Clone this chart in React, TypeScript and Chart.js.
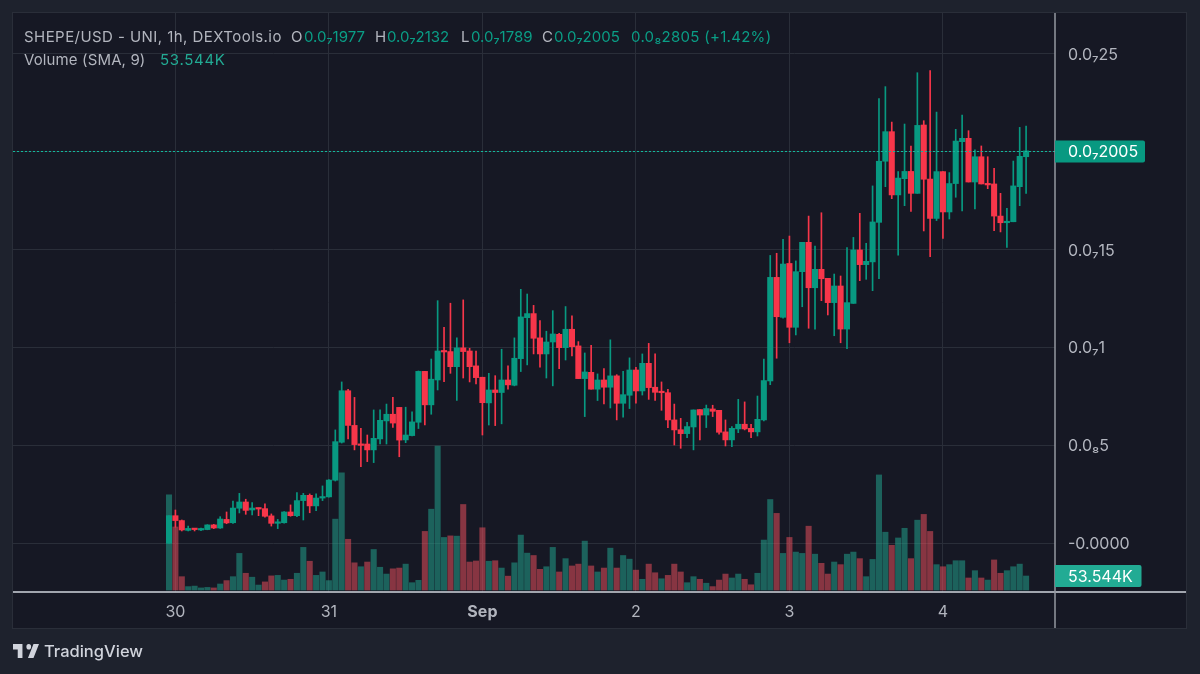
import { useEffect, useRef } from "react";
import { Chart, registerables } from "chart.js";
import type { Plugin } from "chart.js";

Chart.register(...registerables);

// prices are in units of 0.0₉1 so 20.05 reads as 0.0₇2005
const opens = [
  0.01, 1.42, 1.17, 0.67, 0.77, 0.69, 0.71, 0.95, 0.79, 1.23,
  1.06, 1.8, 2.12, 1.71, 1.81, 1.78, 1.41, 1.03, 1.06, 1.61,
  1.42, 2.19, 2.46, 1.92, 2.32, 2.38, 3.23, 5.17, 7.8, 6.03,
  5.08, 5.08, 4.78, 5.34, 6.26, 6.6, 6.95, 5.29, 5.51, 6.19,
  8.79, 7.08, 8.35, 9.83, 9.8, 9.03, 9.99, 9.83, 9.07, 8.49,
  7.18, 7.84, 7.71, 8.35, 8.08, 9.44, 11.53, 11.74, 10.5, 9.68,
  10.29, 10.68, 10.0, 10.94, 10.09, 8.42, 8.74, 7.88, 8.35, 7.98,
  8.56, 7.16, 7.57, 8.86, 7.79, 9.2, 7.98, 7.74, 7.7, 6.31,
  5.81, 5.61, 5.95, 6.84, 6.56, 6.87, 6.8, 5.7, 5.29, 5.85,
  6.09, 5.88, 5.7, 6.31, 8.3, 13.59, 11.55, 14.3, 11.04, 13.88,
  15.38, 13.06, 14.0, 13.54, 12.3, 13.15, 10.95, 12.26, 14.99, 14.24,
  14.38, 16.4, 19.52, 21.03, 17.8, 18.63, 19.0, 17.88, 21.37, 18.61,
  16.6, 18.99, 16.93, 18.38, 20.52, 20.69, 18.46, 19.75, 18.39, 18.36,
  16.72, 16.38, 16.43, 18.22, 19.75,
];
const closes = [
  1.42, 1.17, 0.69, 0.77, 0.71, 0.76, 0.95, 0.79, 1.25, 1.05,
  1.81, 2.12, 1.69, 1.81, 1.76, 1.39, 1.03, 1.1, 1.61, 1.42,
  2.19, 2.46, 1.92, 2.32, 2.39, 3.24, 5.2, 7.8, 6.03, 5.05,
  5.01, 4.78, 5.37, 6.29, 6.6, 6.15, 5.28, 5.54, 6.21, 8.79,
  7.08, 8.39, 9.83, 9.78, 9.03, 9.99, 9.8, 9.03, 8.47, 7.19,
  7.84, 7.71, 8.35, 8.1, 9.46, 11.57, 11.74, 10.48, 9.68, 10.29,
  10.7, 10.0, 10.94, 10.05, 8.42, 8.76, 7.88, 8.35, 7.98, 8.56,
  7.16, 7.6, 8.86, 7.79, 9.2, 7.96, 7.72, 7.7, 6.31, 5.8,
  5.61, 5.97, 6.82, 6.56, 6.89, 6.75, 5.68, 5.29, 5.88, 6.09,
  5.85, 5.7, 6.34, 8.32, 13.59, 11.58, 14.27, 11.04, 13.88, 15.38,
  13.06, 14.0, 13.52, 12.3, 13.15, 10.95, 12.3, 14.99, 14.24, 14.41,
  16.42, 19.52, 21.03, 17.8, 18.66, 19.0, 17.88, 21.35, 18.6, 16.6,
  18.99, 16.93, 18.38, 20.55, 20.69, 18.46, 19.75, 18.36, 18.31, 16.72,
  16.38, 16.45, 18.26, 19.77, 20.05,
];
const highs = [
  1.42, 1.71, 1.2, 0.89, 0.77, 0.79, 0.96, 0.98, 1.37, 1.61,
  2.17, 2.56, 2.26, 2.09, 1.81, 2.02, 1.51, 1.23, 1.63, 1.97,
  2.6, 2.56, 2.53, 2.53, 2.94, 3.26, 5.8, 8.25, 7.87, 7.46,
  5.88, 5.54, 6.82, 6.82, 7.12, 7.46, 6.95, 6.96, 6.72, 8.81,
  8.79, 9.42, 12.4, 11.04, 12.27, 10.5, 12.44, 9.97, 9.83, 8.49,
  8.69, 8.57, 9.92, 9.07, 10.5, 12.98, 12.74, 12.16, 11.38, 10.84,
  11.89, 10.73, 12.1, 11.62, 10.31, 9.73, 10.12, 8.66, 8.93, 10.4,
  8.62, 8.79, 9.48, 8.99, 9.68, 10.22, 9.68, 8.25, 7.87, 7.12,
  6.39, 6.19, 6.82, 6.84, 7.07, 7.06, 6.8, 6.31, 5.97, 7.36,
  7.23, 6.09, 7.53, 9.42, 14.71, 14.82, 15.53, 15.7, 14.43, 15.38,
  16.72, 15.19, 16.89, 13.54, 13.76, 13.66, 15.11, 15.63, 16.86, 15.33,
  18.26, 22.72, 23.33, 21.52, 18.99, 21.42, 20.3, 24.04, 21.59, 24.15,
  22.03, 18.99, 18.94, 21.15, 21.88, 21.08, 20.1, 20.3, 19.75, 19.16,
  17.88, 17.12, 19.53, 21.25, 21.32,
];
const lows = [
  0.01, 0.83, 0.64, 0.64, 0.64, 0.66, 0.7, 0.76, 0.77, 1.01,
  1.03, 1.56, 1.49, 1.46, 1.42, 1.35, 0.89, 0.76, 1.04, 1.39,
  1.37, 1.2, 1.57, 1.68, 2.19, 2.37, 3.19, 5.13, 5.34, 4.78,
  3.92, 4.18, 4.13, 5.08, 5.08, 5.93, 4.43, 5.15, 5.49, 5.87,
  6.05, 6.6, 7.84, 8.27, 8.69, 7.3, 8.45, 8.25, 8.15, 5.54,
  6.05, 6.02, 6.11, 7.88, 8.05, 8.78, 9.12, 9.68, 9.0, 8.45,
  8.05, 8.93, 9.37, 9.58, 8.42, 6.48, 7.88, 7.3, 7.13, 6.92,
  6.31, 6.45, 6.89, 7.16, 7.58, 7.36, 7.3, 6.8, 5.92, 5.03,
  4.86, 5.41, 4.78, 5.29, 5.92, 6.48, 5.58, 4.98, 4.95, 5.66,
  5.8, 5.41, 5.49, 6.26, 8.11, 9.46, 11.51, 10.25, 10.65, 12.09,
  10.99, 10.95, 12.4, 11.67, 10.61, 10.25, 9.95, 12.26, 13.42, 13.49,
  12.91, 13.52, 18.22, 17.61, 14.72, 17.25, 16.96, 17.88, 15.96, 14.65,
  16.49, 15.58, 16.57, 17.68, 16.98, 18.46, 17.08, 18.36, 18.12, 15.98,
  15.91, 15.12, 16.43, 17.25, 17.88,
];
// volume in K
const volumes = [
  364, 241, 51, 13, 15, 8, 10, 8, 23, 36,
  51, 140, 64, 49, 19, 31, 54, 56, 38, 41,
  64, 163, 110, 56, 69, 36, 271, 448, 194, 104,
  89, 107, 155, 87, 61, 81, 84, 99, 28, 37,
  224, 309, 550, 201, 207, 206, 327, 107, 111, 238,
  110, 112, 84, 53, 104, 210, 141, 132, 79, 89,
  163, 69, 120, 92, 99, 187, 92, 69, 84, 160,
  84, 132, 118, 76, 41, 99, 66, 43, 56, 99,
  69, 28, 51, 41, 26, 13, 38, 61, 46, 61,
  41, 20, 64, 191, 346, 293, 140, 201, 145, 140,
  244, 137, 102, 61, 107, 97, 137, 145, 120, 51,
  117, 440, 221, 171, 199, 236, 120, 267, 289, 224,
  97, 89, 97, 112, 112, 46, 74, 46, 38, 115,
  64, 74, 89, 99, 53.544,
];
// red doji candles whose volume bar is still green
const greenVolumeAt = [4, 14, 30, 43, 77, 128];

const dayTicks = [1, 25, 49, 73, 97, 121];
const dayLabels = ["30", "31", "Sep", "2", "3", "4"];
const priceTicks = [0, 5, 10, 15, 20, 25];
const priceLabels = ["-0.0000", "0.0₈5", "0.0₇1", "0.0₇15", "", "0.0₇25"];

const lastPrice = 20.05;
const lastPriceLabel = "0.0₇2005";
const lastVolume = 53.544;
const lastVolumeLabel = "53.544K";

const UP = "#089981";
const DOWN = "#f7364a";
const VOL_UP = "rgba(34,171,148,0.5)";
const VOL_DOWN = "rgba(247,82,95,0.5)";
const FONT = "Inter, sans-serif";

const indices = opens.map((_, i) => i);
const isUp = (i: number) => closes[i] >= opens[i];
const candleColors = indices.map((i) => (isUp(i) ? UP : DOWN));
const volumeColors = indices.map((i) =>
  isUp(i) || greenVolumeAt.includes(i) ? VOL_UP : VOL_DOWN,
);

const paneFrame: Plugin<"bar"> = {
  id: "paneFrame",
  beforeDraw(chart) {
    const { ctx, chartArea, width, height } = chart;
    ctx.save();
    ctx.fillStyle = "#1e222d";
    ctx.fillRect(0, 0, width, height);
    ctx.fillStyle = "#161824";
    ctx.fillRect(chartArea.left, chartArea.top, 1173, 615);
    ctx.strokeStyle = "#2a2e39";
    ctx.lineWidth = 1;
    ctx.strokeRect(chartArea.left - 0.5, chartArea.top - 0.5, 1174, 616);
    ctx.restore();
  },
};

function priceTag(
  ctx: CanvasRenderingContext2D,
  left: number,
  y: number,
  w: number,
  color: string,
  text: string,
) {
  ctx.fillStyle = color;
  ctx.beginPath();
  ctx.roundRect(left, y - 11, w, 22, [0, 2, 2, 0]);
  ctx.fill();
  ctx.fillStyle = "#ffffff";
  ctx.font = `16px ${FONT}`;
  ctx.textAlign = "left";
  ctx.textBaseline = "middle";
  ctx.fillText(text, left + 13, y + 1);
}

const overlays: Plugin<"bar"> = {
  id: "overlays",
  afterDraw(chart) {
    const { ctx, chartArea, scales } = chart;
    const { left, right, top, bottom } = chartArea;
    ctx.save();

    const priceY = Math.round(scales.y.getPixelForValue(lastPrice)) + 0.5;
    ctx.strokeStyle = "#12b89c";
    ctx.lineWidth = 1.2;
    ctx.setLineDash([2, 2]);
    ctx.beginPath();
    ctx.moveTo(left, priceY);
    ctx.lineTo(right, priceY);
    ctx.stroke();
    ctx.setLineDash([]);

    ctx.strokeStyle = "#d1d4dc";
    ctx.lineWidth = 1.5;
    ctx.beginPath();
    ctx.moveTo(left, bottom);
    ctx.lineTo(1186, bottom);
    ctx.stroke();
    ctx.strokeStyle = "#9598a1";
    ctx.beginPath();
    ctx.moveTo(right, top);
    ctx.lineTo(right, 628);
    ctx.stroke();

    priceTag(ctx, right, priceY, 90, UP, lastPriceLabel);
    priceTag(ctx, right, scales.vol.getPixelForValue(lastVolume), 86.5, "#22ab94", lastVolumeLabel);
    ctx.restore();
  },
};

const legendGray = "#b2b5be";
const legendGreen = "#0a9e86";
const legendItems = [
  { text: "SHEPE/USD - UNI, 1h, DEXTools.io", left: 24, top: 37, color: legendGray, spacing: 0.44 },
  { text: "O", left: 291, top: 37, color: legendGray, spacing: 0 },
  { text: "0.0₇1977", left: 304, top: 37, color: legendGreen, spacing: 0 },
  { text: "H", left: 375, top: 37, color: legendGray, spacing: 0 },
  { text: "0.0₇2132", left: 387, top: 37, color: legendGreen, spacing: 0 },
  { text: "L", left: 461, top: 37, color: legendGray, spacing: 0 },
  { text: "0.0₇1789", left: 471, top: 37, color: legendGreen, spacing: 0 },
  { text: "C", left: 542, top: 37, color: legendGray, spacing: 0 },
  { text: "0.0₇2005", left: 554, top: 37, color: legendGreen, spacing: 0 },
  { text: "0.0₈2805 (+1.42%)", left: 631, top: 37, color: legendGreen, spacing: 0.3 },
  { text: "Volume (SMA, 9)", left: 24, top: 60, color: legendGray, spacing: 0.13 },
  { text: "53.544K", left: 160, top: 60, color: "#22ab94", spacing: 0.7 },
];

export default function App() {
  const canvasRef = useRef<HTMLCanvasElement>(null);

  useEffect(() => {
    if (!canvasRef.current) return;
    document.body.style.margin = "0";

    const chart = new Chart(canvasRef.current, {
      type: "bar",
      data: {
        datasets: [
          {
            label: "Body",
            data: indices.map((i) => ({ x: i, y: [opens[i], closes[i]] })) as any,
            backgroundColor: candleColors,
            barThickness: 5.4,
            minBarLength: 1.5,
            yAxisID: "y",
            order: 1,
          },
          {
            label: "Wick",
            data: indices.map((i) => ({ x: i, y: [lows[i], highs[i]] })) as any,
            backgroundColor: candleColors,
            barThickness: 1,
            yAxisID: "y",
            order: 2,
          },
          {
            label: "Volume",
            data: indices.map((i) => ({ x: i, y: volumes[i] })) as any,
            backgroundColor: volumeColors,
            barThickness: 5.4,
            yAxisID: "vol",
            order: 3,
          },
        ],
      },
      options: {
        responsive: false,
        animation: false,
        layout: { padding: { left: 13, top: 13, right: 14, bottom: 46 } },
        plugins: { legend: { display: false }, tooltip: { enabled: false } },
        scales: {
          x: {
            type: "linear",
            stacked: true,
            min: -24.39,
            max: 138.52,
            offset: false,
            afterBuildTicks: (axis) => {
              axis.ticks = dayTicks.map((value) => ({ value }));
            },
            afterFit: (axis) => {
              axis.height = 36;
              axis.paddingLeft = 0;
              axis.paddingRight = 0;
            },
            border: { display: false },
            grid: { color: "#2a2e39", drawTicks: false, offset: false },
            ticks: {
              autoSkip: false,
              maxRotation: 0,
              padding: 11,
              color: "#b2b5be",
              font: (ctx) => ({
                family: FONT,
                size: 16,
                weight: ctx.tick && ctx.tick.value === 49 ? "bold" : "normal",
              }),
              callback: (v) => dayLabels[dayTicks.indexOf(Number(v))],
            },
          },
          y: {
            position: "right",
            min: -2.477,
            max: 27.09,
            afterBuildTicks: (axis) => {
              axis.ticks = priceTicks.map((value) => ({ value }));
            },
            afterFit: (axis) => {
              axis.width = 131;
              axis.paddingTop = 0;
              axis.paddingBottom = 0;
            },
            border: { display: false },
            grid: { color: "#2a2e39", drawTicks: false },
            ticks: {
              autoSkip: false,
              padding: 13,
              labelOffset: 1,
              color: "#b2b5be",
              font: { family: FONT, size: 16 },
              callback: (v) => priceLabels[priceTicks.indexOf(Number(v))],
            },
          },
          vol: {
            display: false,
            min: -7.6,
            max: 2206,
          },
        },
      },
      plugins: [paneFrame, overlays],
    });

    return () => chart.destroy();
  }, []);

  return (
    <div style={{ position: "fixed", left: 0, top: 0, width: 1200, height: 674, overflow: "hidden" }}>
      <canvas ref={canvasRef} width={1200} height={674} style={{ display: "block" }} />
      {legendItems.map((item) => (
        <span
          key={item.text + item.left}
          style={{
            position: "absolute",
            left: item.left,
            top: item.top - 10,
            lineHeight: "20px",
            fontFamily: FONT,
            fontSize: 15,
            letterSpacing: item.spacing,
            color: item.color,
            whiteSpace: "nowrap",
          }}
        >
          {item.text}
        </span>
      ))}
      <svg
        viewBox="2 6 33 15"
        width={26}
        height={14}
        preserveAspectRatio="none"
        style={{ position: "absolute", left: 13, top: 644 }}
      >
        <path
          fill="#d1d4dc"
          d="M14 6H2v6h6v9h6V6zm14 15h-7l7-15h7l-7 15zm-6-9a3 3 0 1 0 0-6 3 3 0 0 0 0 6z"
        />
      </svg>
      <span
        style={{
          position: "absolute",
          left: 44,
          top: 641,
          lineHeight: "20px",
          fontFamily: FONT,
          fontSize: 16.5,
          fontWeight: 500,
          color: "#d1d4dc",
          whiteSpace: "nowrap",
        }}
      >
        TradingView
      </span>
    </div>
  );
}
